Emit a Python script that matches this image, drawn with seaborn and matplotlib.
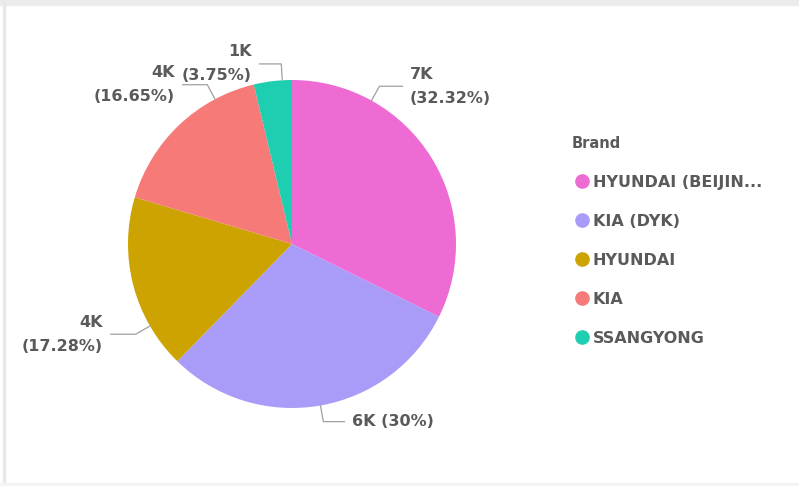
import numpy as np
import matplotlib
matplotlib.use("Agg")
import matplotlib.pyplot as plt
import seaborn as sns
from matplotlib.lines import Line2D
from matplotlib.patches import Rectangle

sns.set_style("white")
plt.rcParams["font.family"] = ["DejaVu Sans"]

# ---------- data -------------------------------------------------------
brands = ["HYUNDAI (BEIJIN...", "KIA (DYK)", "HYUNDAI", "KIA", "SSANGYONG"]
shares = [32.32, 30.00, 17.28, 16.65, 3.75]
counts = ["7K", "6K", "4K", "4K", "1K"]
colors = ["#EE6BD4", "#A99CF8", "#CCA300", "#F67B78", "#1DCFB0"]

# ---------- label layout (anchor angle on rim, text x, alignment, one/two lines)
label_angle = [61, -80, -150, 118, 93.4]
label_x = [0.72, 0.366, -1.152, -0.713, -0.244]
label_ha = ["left", "left", "right", "right", "right"]
label_two_lines = [True, False, True, True, True]

TXT = "#5A5A5A"
LINE = "#A0A0A0"
FS = 11.5

fig = plt.figure(figsize=(7.99, 4.86), dpi=100)
ax = fig.add_axes([128 / 799, (486 - 408) / 486, 328 / 799, 328 / 486])

ax.pie(shares, colors=colors, startangle=90, counterclock=False, radius=1.0,
       wedgeprops=dict(linewidth=0))
ax.set_xlim(-1, 1)
ax.set_ylim(-1, 1)
ax.axis("off")

for i in range(len(shares)):
    a = np.deg2rad(label_angle[i])
    x0, y0 = np.cos(a), np.sin(a)
    x1, y1 = 1.1 * np.cos(a), 1.1 * np.sin(a)
    gap = 0.045 if label_ha[i] == "left" else -0.045
    x2 = label_x[i] - gap
    ax.plot([x0, x1, x2], [y0, y1, y1], color=LINE, lw=0.9, clip_on=False)
    pct = f"({shares[i]:g}%)"
    txt = f"{counts[i]}\n{pct}" if label_two_lines[i] else f"{counts[i]} {pct}"
    ax.text(label_x[i], y1, txt, ha=label_ha[i], va="center", fontsize=FS,
            fontweight="bold", color=TXT, linespacing=1.75, multialignment=label_ha[i])

# ---------- legend ----------------------------------------------------
handles = [Line2D([0], [0], marker="o", color="none", markerfacecolor=c,
                  markeredgecolor=c, markersize=9.5) for c in colors]
leg = fig.legend(handles, brands, title="Brand", loc="upper left",
                 bbox_to_anchor=(572 / 799, 1 - 136 / 486), frameon=False,
                 fontsize=FS, title_fontsize=10.5, labelspacing=1.5,
                 handlelength=1.25, handletextpad=0.06, borderpad=0,
                 borderaxespad=0, alignment="left")
leg.get_title().set_fontweight("bold")
leg.get_title().set_color(TXT)
for t in leg.get_texts():
    t.set_fontweight("bold")
    t.set_color(TXT)

# ---------- light frame --------------------------------------------------
fig.patches.append(Rectangle((0, 1 - 5 / 486), 1, 5 / 486, transform=fig.transFigure,
                             color="#ECECEC", zorder=0))
fig.patches.append(Rectangle((3 / 799, 0), 1.5 / 799, 1, transform=fig.transFigure,
                             color="#E8E8E8", zorder=0))
fig.patches.append(Rectangle((0, 0), 1, 3 / 486, transform=fig.transFigure,
                             color="#F4F4F4", zorder=0))

fig.savefig("out.png", dpi=100)
